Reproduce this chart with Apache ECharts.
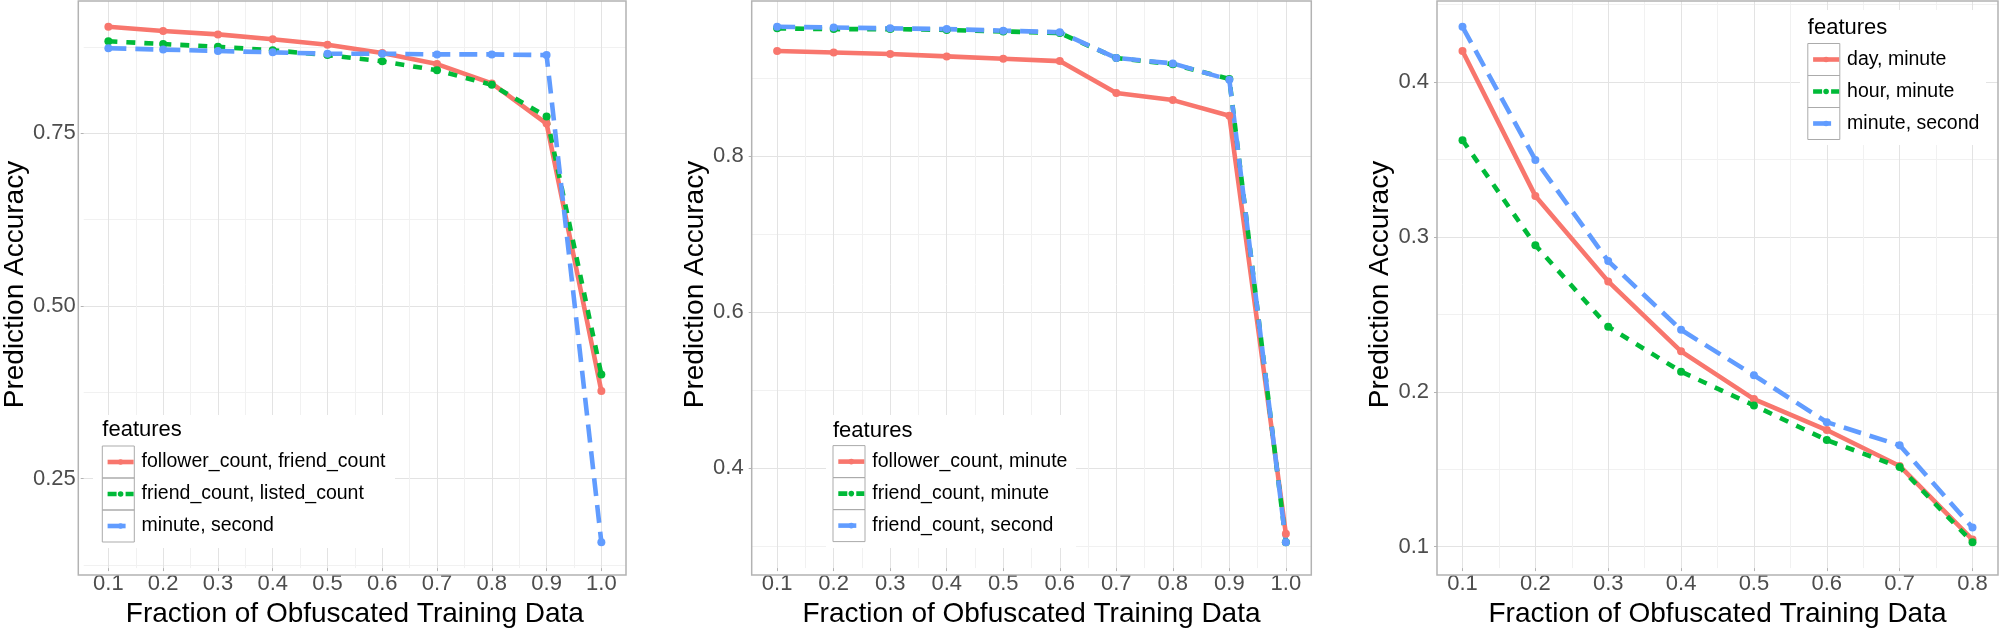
<!DOCTYPE html>
<html><head><meta charset="utf-8">
<script src="https://cdn.jsdelivr.net/npm/echarts@6/dist/echarts.min.js"></script>
<style>html,body{margin:0;padding:0;background:#fff}#c{width:1999px;height:633px}</style>
</head><body><div id="c"></div>
<script>
// ---------- data ----------
const fractions10 = [0.1, 0.2, 0.3, 0.4, 0.5, 0.6, 0.7, 0.8, 0.9, 1.0];
const fractions8 = [0.1, 0.2, 0.3, 0.4, 0.5, 0.6, 0.7, 0.8];

const xTicks10 = [0.1, 0.2, 0.3, 0.4, 0.5, 0.6, 0.7, 0.8, 0.9, 1.0];
const xTicks8 = [0.1, 0.2, 0.3, 0.4, 0.5, 0.6, 0.7, 0.8];
const yTicksA = [0.25, 0.50, 0.75];
const yTicksB = [0.4, 0.6, 0.8];
const yTicksC = [0.1, 0.2, 0.3, 0.4];

const namesA = ['follower_count, friend_count', 'friend_count, listed_count', 'minute, second'];
const namesB = ['follower_count, minute', 'friend_count, minute', 'friend_count, second'];
const namesC = ['day, minute', 'hour, minute', 'minute, second'];

const aFollowerFriend = [0.904, 0.898, 0.893, 0.886, 0.878, 0.866, 0.850, 0.822, 0.764, 0.377];
const aFriendListed   = [0.883, 0.879, 0.875, 0.870, 0.863, 0.854, 0.841, 0.820, 0.774, 0.401];
const aMinuteSecond   = [0.873, 0.871, 0.869, 0.867, 0.865, 0.865, 0.864, 0.864, 0.863, 0.158];

const bFollowerMinute = [0.935, 0.933, 0.931, 0.928, 0.925, 0.922, 0.881, 0.872, 0.852, 0.316];
const bFriendMinute   = [0.964, 0.963, 0.963, 0.962, 0.960, 0.958, 0.926, 0.918, 0.899, 0.305];
const bFriendSecond   = [0.966, 0.965, 0.964, 0.963, 0.961, 0.959, 0.926, 0.919, 0.898, 0.305];

const cDayMinute    = [0.420, 0.3265, 0.2713, 0.2261, 0.1953, 0.1753, 0.1521, 0.1046];
const cHourMinute   = [0.3625, 0.2947, 0.2420, 0.2130, 0.1912, 0.1688, 0.1514, 0.1028];
const cMinuteSecond = [0.4357, 0.3497, 0.2844, 0.2400, 0.2107, 0.1804, 0.1655, 0.1123];

// ---------- styles / layout ----------
const FONT = "'Liberation Sans', Arial, Helvetica, sans-serif";
const COLORS = ['#F8766D', '#00BA38', '#619CFF'];
const DASHES = ['solid', [9, 9], [18, 9]];
const LW = 4.6;

const panels = [
  { left: 78.3, top: 1, width: 547.7, height: 574, xs: fractions10, xTicks: xTicks10, yTicks: yTicksA, yDec: 2,
    names: namesA, series: [aFollowerFriend, aFriendListed, aMinuteSecond], yNameGap: 52,
    legend: { boxLeft: 102.3, boxTop: 446, titleY: 430, bg: [93, 415, 302, 133] } },
  { left: 751.7, top: 1, width: 559.6, height: 574, xs: fractions10, xTicks: xTicks10, yTicks: yTicksB, yDec: 1,
    names: namesB, series: [bFollowerMinute, bFriendMinute, bFriendSecond], yNameGap: 39.5,
    legend: { boxLeft: 833, boxTop: 445.6, titleY: 430.6, bg: [826, 415, 250, 133] } },
  { left: 1437, top: 1, width: 561, height: 574, xs: fractions8, xTicks: xTicks8, yTicks: yTicksC, yDec: 1,
    names: namesC, series: [cDayMinute, cHourMinute, cMinuteSecond], yNameGap: 39.5,
    legend: { boxLeft: 1807.8, boxTop: 43.5, titleY: 28, bg: [1800, 10, 186, 135] } }
];

function expand(vals) {
  const lo = Math.min(...vals), hi = Math.max(...vals), r = hi - lo;
  return [lo - 0.05 * r, hi + 0.05 * r];
}
function stepOf(ticks) { return Math.round((ticks[1] - ticks[0]) * 1e6) / 1e6; }

const grids = [], xAxes = [], yAxes = [], series = [], legends = [], graphics = [];

panels.forEach((p, i) => {
  grids.push({ left: p.left, top: p.top, width: p.width, height: p.height, containLabel: false, show: false });
  const [xlo, xhi] = expand(p.xs);
  const [ylo, yhi] = expand([].concat(...p.series));
  const xs = stepOf(p.xTicks), ys = stepOf(p.yTicks);
  xAxes.push({
    type: 'value', gridIndex: i, min: xlo, max: xhi, minInterval: xs, maxInterval: xs, splitNumber: p.xTicks.length,
    name: 'Fraction of Obfuscated Training Data', nameLocation: 'middle', nameGap: 28,
    nameTextStyle: { fontSize: 28, color: '#000', fontFamily: FONT },
    axisLine: { show: false },
    axisTick: { show: true, length: 3, customValues: p.xTicks, lineStyle: { color: '#b3b3b3', width: 1 } },
    axisLabel: { customValues: p.xTicks, formatter: v => v.toFixed(1), fontSize: 22, color: '#4d4d4d', fontFamily: FONT, margin: 5 },
    splitLine: { show: true, lineStyle: { color: '#e3e3e3', width: 1 } },
    minorTick: { show: false, splitNumber: 2 },
    minorSplitLine: { show: true, lineStyle: { color: '#f1f1f1', width: 1 } }
  });
  yAxes.push({
    type: 'value', gridIndex: i, min: ylo, max: yhi, minInterval: ys, maxInterval: ys, splitNumber: p.yTicks.length,
    name: 'Prediction Accuracy', nameLocation: 'middle', nameGap: p.yNameGap,
    nameTextStyle: { fontSize: 28, color: '#000', fontFamily: FONT },
    axisLine: { show: false },
    axisTick: { show: true, length: 3, customValues: p.yTicks, lineStyle: { color: '#b3b3b3', width: 1 } },
    axisLabel: { customValues: p.yTicks, formatter: v => v.toFixed(p.yDec), fontSize: 22, color: '#4d4d4d', fontFamily: FONT, margin: 8 },
    splitLine: { show: true, lineStyle: { color: '#e3e3e3', width: 1 } },
    minorTick: { show: false, splitNumber: 2 },
    minorSplitLine: { show: true, lineStyle: { color: '#f1f1f1', width: 1 } }
  });
  p.series.forEach((vals, k) => {
    series.push({
      type: 'line', name: p.names[k], xAxisIndex: i, yAxisIndex: i,
      data: p.xs.map((x, j) => [x, vals[j]]),
      symbol: 'circle', symbolSize: 8, showSymbol: true,
      lineStyle: { color: COLORS[k], width: LW, type: DASHES[k], cap: 'butt' },
      itemStyle: { color: COLORS[k] },
      emphasis: { disabled: true }, silent: true, z: 2
    });
  });
  const L = p.legend;
  legends.push({
    data: p.names, orient: 'vertical', left: L.boxLeft + 3, top: L.boxTop, padding: 0,
    itemWidth: 26, itemHeight: 7, itemGap: 0, selectedMode: false, z: 6,
    lineStyle: { width: LW },
    textStyle: { fontSize: 19.5, color: '#000', fontFamily: FONT, lineHeight: 32, padding: [0, 0, 0, 3] }
  });
  graphics.push({ type: 'rect', z: 1, silent: true,
    shape: { x: L.bg[0], y: L.bg[1], width: L.bg[2], height: L.bg[3] }, style: { fill: '#fff' } });
  graphics.push({ type: 'text', z: 6, silent: true, x: L.boxLeft, y: L.titleY,
    style: { text: 'features', font: '22px ' + FONT, fill: '#000', verticalAlign: 'middle', align: 'left' } });
  for (let k = 0; k < p.names.length; k++) {
    graphics.push({ type: 'rect', z: 5, silent: true,
      shape: { x: L.boxLeft, y: L.boxTop + 32 * k, width: 32, height: 32 },
      style: { fill: 'none', stroke: '#ababab', lineWidth: 1 } });
  }
  graphics.push({ type: 'rect', z: 3, silent: true,
    shape: { x: p.left, y: p.top, width: p.width, height: p.height },
    style: { fill: 'none', stroke: '#b3b3b3', lineWidth: 1.5 } });
});

const chart = echarts.init(document.getElementById('c'), null, { renderer: 'canvas' });
chart.setOption({
  animation: false,
  backgroundColor: '#ffffff',
  textStyle: { fontFamily: FONT },
  grid: grids, xAxis: xAxes, yAxis: yAxes, series: series, legend: legends,
  graphic: { elements: graphics }
});
</script></body></html>
